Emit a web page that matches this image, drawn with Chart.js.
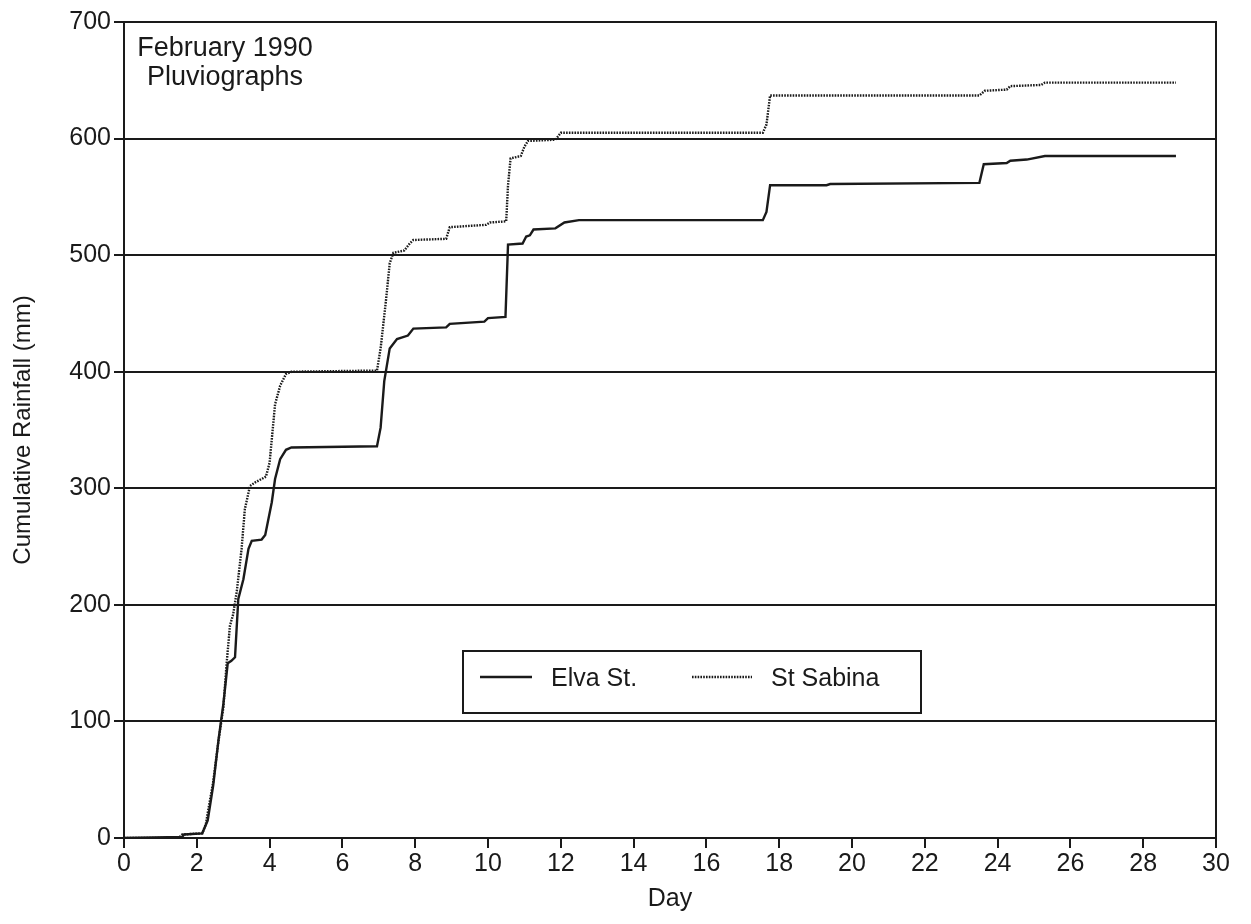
<!DOCTYPE html>
<html>
<head>
<meta charset="utf-8">
<script src="https://cdn.jsdelivr.net/npm/chart.js@4"></script>
<style>
    body { margin: 0; background: #fff; }
    canvas { display: block; }
</style>
</head>
<body>
<canvas id="rain-chart" width="1251" height="924"></canvas>
<script>
// Elva St. pluviograph (solid)
const elvaDays = [0, 1.6, 1.65, 2.15, 2.3, 2.45, 2.6, 2.73, 2.85, 2.95, 3.05, 3.14, 3.28, 3.42, 3.51, 3.78, 3.88,
    4.06, 4.15, 4.29, 4.45, 4.6, 6.95, 7.05, 7.15, 7.3, 7.5, 7.8, 7.95, 8.85, 8.95, 9.9, 10.0, 10.48, 10.55,
    10.95, 11.05, 11.15, 11.25, 11.85, 12.1, 12.5, 17.55, 17.65, 17.75, 19.3, 19.4, 23.5, 23.62, 24.25, 24.35,
    24.8, 25.3, 28.9];
const elvaRain = [0, 1, 3, 4, 15, 45, 85, 115, 150, 152, 155, 205, 222, 248, 255, 256, 260,
    288, 308, 325, 333, 335, 336, 352, 392, 420, 428, 431, 437, 438, 441, 443, 446, 447, 509,
    510, 516, 517, 522, 523, 528, 530, 530, 537, 560, 560, 561, 562, 578, 579, 581,
    582, 585, 585];

// St Sabina pluviograph (dotted)
const sabinaDays = [0, 1.5, 1.6, 2.15, 2.25, 2.32, 2.45, 2.59, 2.73, 2.82, 2.91, 3.0, 3.1, 3.23, 3.32, 3.46, 3.6,
    3.9, 4.0, 4.15, 4.29, 4.45, 4.6, 6.95, 7.05, 7.2, 7.3, 7.4, 7.7, 7.85, 7.95, 8.85, 8.95, 9.95, 10.05, 10.5,
    10.55, 10.62, 10.9, 11.0, 11.1, 11.85, 12.0, 17.55, 17.65, 17.75, 23.5, 23.65, 24.25, 24.35, 25.2, 25.3, 28.9];
const sabinaRain = [0, 0, 3, 4, 12, 25, 48, 82, 112, 150, 182, 192, 212, 248, 282, 302, 305,
    310, 322, 372, 388, 398, 400, 401, 420, 462, 493, 502, 504, 510, 513, 514, 524, 526, 528, 529,
    560, 583, 585, 593, 598, 599, 605, 605, 612, 637, 637, 641, 642, 645, 646, 648, 648];

const seriesNames = ['Elva St.', 'St Sabina'];
const noteLines = ['February 1990', 'Pluviographs'];

const FONT = '"Liberation Sans", Arial, Helvetica, sans-serif';
const INK = '#1a1a1a';

function toPoints(days, rain) {
    return days.map((d, i) => ({ x: d, y: rain[i] }));
}

// рамка вокруг области графика
const frame = {
    id: 'frame',
    afterDraw(chart) {
        const { ctx, chartArea: a } = chart;
        ctx.save();
        ctx.strokeStyle = INK;
        ctx.lineWidth = 2;
        ctx.strokeRect(a.left, a.top, a.right - a.left, a.bottom - a.top);
        ctx.restore();
    }
};

// надпись в левом верхнем углу
const note = {
    id: 'note',
    afterDraw(chart) {
        const { ctx, chartArea: a } = chart;
        ctx.save();
        ctx.fillStyle = INK;
        ctx.font = '27px ' + FONT;
        ctx.textAlign = 'center';
        ctx.textBaseline = 'middle';
        ctx.fillText(noteLines[0], a.left + 101, a.top + 27);
        ctx.fillText(noteLines[1], a.left + 101, a.top + 56);
        ctx.restore();
    }
};

// легенда в рамке внутри графика
const boxLegend = {
    id: 'boxLegend',
    afterDraw(chart) {
        const { ctx, chartArea: a } = chart;
        const x = a.left + 339, y = a.top + 629, w = 458, h = 62;
        ctx.save();
        ctx.fillStyle = '#fff';
        ctx.fillRect(x, y, w, h);
        ctx.strokeStyle = INK;
        ctx.lineWidth = 2;
        ctx.strokeRect(x, y, w, h);

        const midY = y + 26;
        chart.data.datasets.forEach((ds, i) => {
            const lx = i === 0 ? x + 17 : x + 229;
            const len = i === 0 ? 52 : 60;
            ctx.beginPath();
            ctx.strokeStyle = ds.borderColor;
            ctx.lineWidth = ds.borderWidth;
            ctx.setLineDash(ds.borderDash || []);
            ctx.moveTo(lx, midY);
            ctx.lineTo(lx + len, midY);
            ctx.stroke();
            ctx.setLineDash([]);
            ctx.fillStyle = INK;
            ctx.font = '25px ' + FONT;
            ctx.textBaseline = 'middle';
            ctx.fillText(ds.label, lx + len + 19, midY + 2);
        });
        ctx.restore();
    }
};

new Chart(document.getElementById('rain-chart'), {
    type: 'line',
    data: {
        datasets: [
            {
                label: seriesNames[0],
                data: toPoints(elvaDays, elvaRain),
                borderColor: INK,
                borderWidth: 2.4,
                pointRadius: 0,
                tension: 0
            },
            {
                label: seriesNames[1],
                data: toPoints(sabinaDays, sabinaRain),
                borderColor: INK,
                borderWidth: 2.4,
                borderDash: [1.6, 1.2],
                pointRadius: 0,
                tension: 0
            }
        ]
    },
    options: {
        responsive: false,
        animation: false,
        devicePixelRatio: 1,
        layout: { padding: { top: 22, right: 35, left: 0, bottom: 0 } },
        plugins: {
            legend: { display: false },
            tooltip: { enabled: false }
        },
        scales: {
            x: {
                type: 'linear',
                min: 0,
                max: 30,
                ticks: {
                    stepSize: 2,
                    color: INK,
                    font: { size: 25, family: FONT },
                    padding: 1,
                    maxRotation: 0
                },
                grid: {
                    drawOnChartArea: false,
                    drawTicks: true,
                    tickLength: 10,
                    color: INK,
                    lineWidth: 2
                },
                border: { display: true, color: INK, width: 2 },
                title: {
                    display: true,
                    text: 'Day',
                    color: INK,
                    font: { size: 25, family: FONT },
                    padding: { top: 0, bottom: 10 }
                },
                afterFit(scale) { scale.height = 86; }
            },
            y: {
                min: 0,
                max: 700,
                ticks: {
                    stepSize: 100,
                    color: INK,
                    font: { size: 25, family: FONT },
                    padding: 3
                },
                grid: {
                    color: INK,
                    lineWidth: 2,
                    drawTicks: true,
                    tickLength: 10
                },
                border: { display: true, color: INK, width: 2 },
                title: {
                    display: true,
                    text: 'Cumulative Rainfall (mm)',
                    color: INK,
                    font: { size: 24, family: FONT },
                    padding: { top: 9, bottom: 4 }
                },
                afterFit(scale) { scale.width = 124; }
            }
        }
    },
    plugins: [frame, note, boxLegend]
});
</script>
</body>
</html>
